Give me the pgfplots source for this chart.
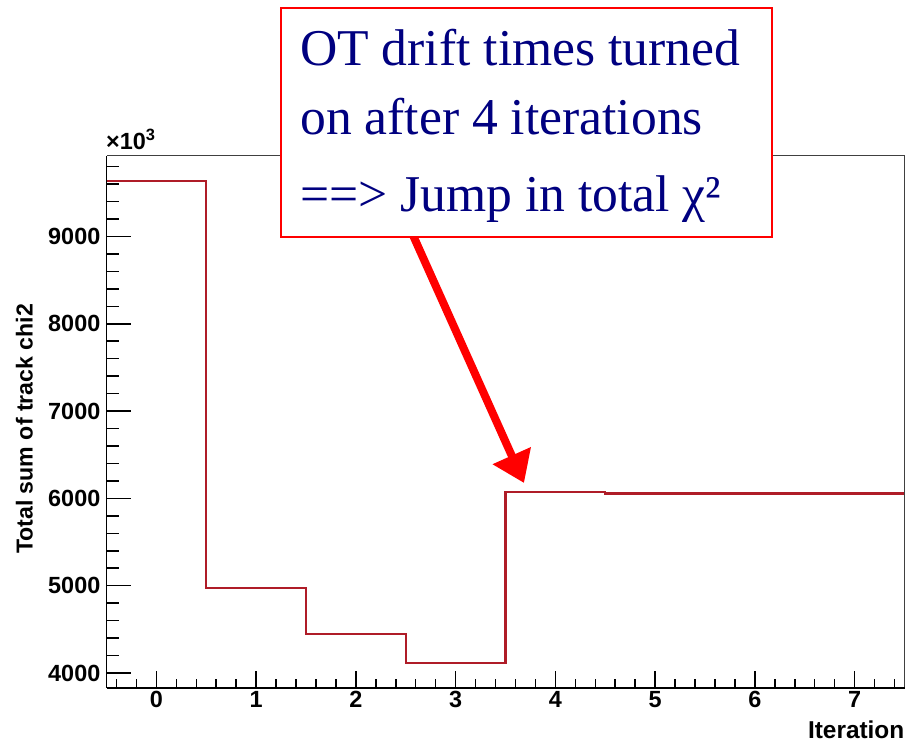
\documentclass[border=0pt]{standalone}
\usepackage{fontspec}
\setmainfont{Liberation Sans}
\newfontfamily\timesf{Liberation Serif}
\usepackage{pgfplots}
\pgfplotsset{compat=1.18}
\usetikzlibrary{arrows.meta}
\definecolor{histred}{RGB}{175,28,40}
\definecolor{navytext}{RGB}{0,0,128}
\begin{document}
\begin{tikzpicture}[x=1bp,y=1bp]
\useasboundingbox (0,0) rectangle (906,745);
\begin{axis}[
  at={(106.5bp,57bp)}, anchor=south west, scale only axis,
  width=798bp, height=532bp,
  xmin=-0.5, xmax=7.5, ymin=3828, ymax=9922,
  axis x line*=bottom, axis y line*=left,
  axis line style={-, line width=1.8bp, black},
  xtick=\empty,
  ytick={4000,5000,6000,7000,8000,9000},
  minor ytick={4200,4400,4600,4800,5200,5400,5600,5800,6200,6400,6600,6800,7200,7400,7600,7800,8200,8400,8600,8800,9200,9400,9600,9800},
  tick align=inside, major tick length=24bp, minor tick length=12bp,
  tick style={line width=1.5bp, black},
  /pgf/number format/assume math mode=true, /pgf/number format/1000 sep={},
  yticklabel style={font=\fontsize{23.5}{23.5}\selectfont\bfseries, inner sep=6bp},
  ylabel={Total sum of track chi2},
  ylabel style={font=\fontsize{23.2}{23.2}\selectfont\bfseries, at={(axis description cs:-0.1028,0.487)}, anchor=center},
  clip=false,
]
\addplot[const plot, histred, line width=2.2bp] coordinates {
  (-0.5,9640) (0.5,4975) (1.5,4447) (2.5,4115) (3.5,6075) (4.5,6055) (5.5,6055) (6.5,6055) (7.5,6055)
};
\draw[line width=1bp, black!75] (rel axis cs:0,1) -- (rel axis cs:1,1) -- (rel axis cs:1,0);
\end{axis}
\begin{axis}[
  at={(106.5bp,57bp)}, anchor=south west, scale only axis,
  width=798bp, height=532bp,
  xmin=-0.5, xmax=7.5, ymin=3828, ymax=9922,
  hide y axis, axis x line*=bottom,
  axis line style={-, line width=1.8bp, black},
  xtick={0,1,2,3,4,5,6,7},
  minor xtick={-0.4,-0.2,0.2,0.4,0.6,0.8,1.2,1.4,1.6,1.8,2.2,2.4,2.6,2.8,3.2,3.4,3.6,3.8,4.2,4.4,4.6,4.8,5.2,5.4,5.6,5.8,6.2,6.4,6.6,6.8,7.2,7.4},
  tick align=inside, major tick length=17bp, minor tick length=9bp,
  tick style={line width=1.5bp, black},
  /pgf/number format/assume math mode=true,
  xticklabel style={font=\fontsize{23.5}{23.5}\selectfont\bfseries},
  xlabel={Iteration},
  xlabel style={font=\fontsize{24.5}{24.5}\selectfont\bfseries, at={(axis description cs:1,0)}, anchor=base east, inner sep=0pt, yshift=-51bp},
  clip=false,
]
\end{axis}
\node[anchor=base west, inner sep=0pt, font=\fontsize{23.5}{23.5}\selectfont\bfseries] at (106,595) {×10\textsuperscript{3}};
\draw[red, line width=8bp, -{Triangle[length=30bp,width=40bp]}] (412,512) -- (524,262);
\draw[red, line width=2bp, fill=white] (281,737) rectangle (772,508);
\begin{scope}[every node/.style={anchor=base west, inner sep=0pt, text=navytext, font=\timesf\fontsize{51.8}{51.8}\selectfont}]
\node at (300,679.5) {OT drift times turned};
\node at (300,610) {on after 4 iterations};
\node at (300,533.5) {==> Jump in total χ²};
\end{scope}
\end{tikzpicture}
\end{document}
